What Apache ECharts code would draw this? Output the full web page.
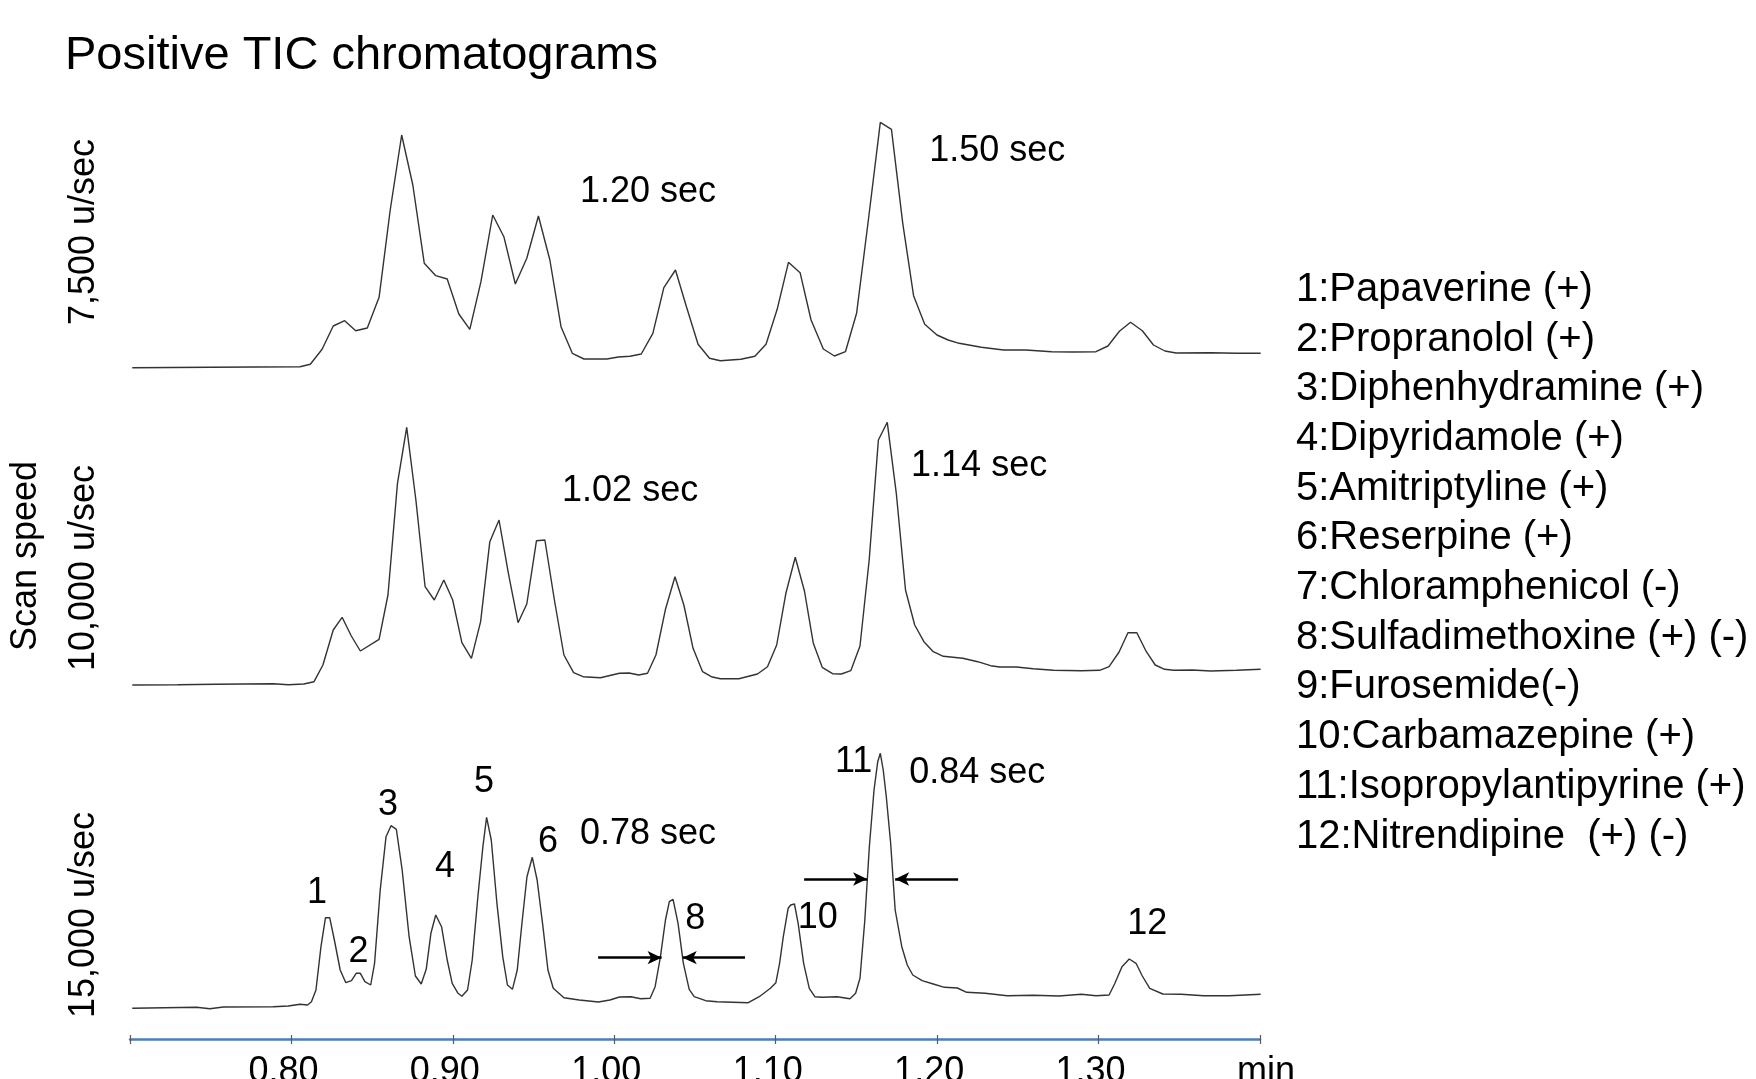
<!DOCTYPE html>
<html>
<head>
<meta charset="UTF-8">
<title>Positive TIC chromatograms</title>
<script src="https://cdn.jsdelivr.net/npm/echarts@6/dist/echarts.min.js"></script>
<style>
  html, body { margin: 0; padding: 0; background: #fff; }
  #chart { width: 1756px; height: 1079px; }
</style>
</head>
<body>
<div id="chart"></div>
<script>
// retention time (min) and TIC signal (relative units) for each scan speed
const times7500 = [0.7014, 0.7500, 0.8053, 0.8117, 0.8190, 0.8259, 0.8330, 0.8398, 0.8470, 0.8543,
  0.8612, 0.8683, 0.8752, 0.8823, 0.8894, 0.8965, 0.9037, 0.9105, 0.9174, 0.9247,
  0.9316, 0.9387, 0.9458, 0.9530, 0.9601, 0.9670, 0.9740, 0.9812, 0.9954, 1.0025,
  1.0097, 1.0167, 1.0239, 1.0307, 1.0379, 1.0447, 1.0519, 1.0590, 1.0657, 1.0784,
  1.0871, 1.0940, 1.1009, 1.1079, 1.1151, 1.1219, 1.1295, 1.1364, 1.1432, 1.1501,
  1.1574, 1.1648, 1.1717, 1.1787, 1.1854, 1.1923, 1.1999, 1.2068, 1.2136, 1.2274,
  1.2411, 1.2549, 1.2709, 1.2847, 1.2984, 1.3058, 1.3129, 1.3198, 1.3271, 1.3340,
  1.3411, 1.3480, 1.3695, 1.3855, 1.4004];
const signal7500 = [2.3, 2.7, 3.3, 5.7, 20.7, 44, 49.3, 39.3, 42, 72.7,
  160, 235, 185, 106.7, 94.3, 91, 56, 40.7, 88.3, 155,
  133.3, 86, 111.7, 154, 110, 43.3, 16.7, 11, 11, 13,
  13.7, 16, 36.7, 82.3, 100, 63.3, 25.7, 11.7, 9.3, 10.7,
  13.7, 25.7, 60.7, 107.7, 97.3, 50, 21, 14, 18.3, 56.7,
  150, 247.7, 240.7, 146.7, 74.3, 45.7, 35, 30, 26.7, 22.7,
  20, 20, 18.3, 18, 18.3, 24, 38.7, 47.7, 39.3, 25,
  19, 17, 17.3, 16.7, 16.7];

const times10000 = [0.7014, 0.7294, 0.7531, 0.7887, 0.7981, 0.8076, 0.8140, 0.8195, 0.8259, 0.8314,
  0.8371, 0.8427, 0.8543, 0.8598, 0.8657, 0.8714, 0.8771, 0.8828, 0.8885, 0.8944,
  0.8999, 0.9056, 0.9115, 0.9172, 0.9229, 0.9286, 0.9344, 0.9404, 0.9458, 0.9518,
  0.9570, 0.9629, 0.9688, 0.9748, 0.9807, 0.9914, 1.0032, 1.0092, 1.0151, 1.0206,
  1.0258, 1.0317, 1.0376, 1.0431, 1.0488, 1.0547, 1.0601, 1.0657, 1.0772, 1.0887,
  1.0949, 1.1006, 1.1063, 1.1121, 1.1178, 1.1233, 1.1288, 1.1352, 1.1407, 1.1465,
  1.1522, 1.1579, 1.1636, 1.1691, 1.1747, 1.1804, 1.1861, 1.1918, 1.1976, 1.2038,
  1.2159, 1.2251, 1.2331, 1.2388, 1.2491, 1.2595, 1.2721, 1.2893, 1.3007, 1.3065,
  1.3127, 1.3182, 1.3237, 1.3296, 1.3351, 1.3409, 1.3466, 1.3581, 1.3695, 1.3855,
  1.4004];
const signal10000 = [5, 5.3, 5.7, 6.3, 5.3, 6, 8.3, 25, 60, 72.7,
  54, 39, 50.7, 95, 206.7, 262.7, 190, 103.3, 90, 110,
  90, 47.3, 31.7, 68.3, 148.3, 170, 116.7, 67.3, 86, 149.3,
  150, 90, 35, 17.3, 13.3, 12.3, 16.7, 17, 15, 16.7,
  35, 80.7, 113.3, 85, 41.7, 18.3, 13.3, 11.3, 11.3, 16,
  23.3, 45, 96.7, 132.7, 99, 46.7, 22.7, 16.3, 16, 19.3,
  44, 130, 250, 267.7, 196.7, 100, 65, 48.3, 38.3, 33.7,
  31.7, 28.3, 24.3, 23, 23, 21.3, 19.7, 19.3, 19.7, 23.3,
  38, 57.3, 57.3, 38.3, 25, 20.7, 19.7, 20, 19, 19.7,
  20.7];

const times15000 = [0.7014, 0.7412, 0.7495, 0.7578, 0.7887, 0.7981, 0.8053, 0.8100, 0.8124, 0.8152,
  0.8183, 0.8211, 0.8237, 0.8266, 0.8302, 0.8337, 0.8372, 0.8401, 0.8427, 0.8455,
  0.8491, 0.8515, 0.8550, 0.8586, 0.8617, 0.8650, 0.8686, 0.8729, 0.8768, 0.8804,
  0.8835, 0.8864, 0.8894, 0.8930, 0.8965, 0.8996, 0.9032, 0.9056, 0.9091, 0.9120,
  0.9155, 0.9186, 0.9209, 0.9238, 0.9273, 0.9309, 0.9338, 0.9369, 0.9399, 0.9428,
  0.9459, 0.9492, 0.9522, 0.9558, 0.9589, 0.9622, 0.9688, 0.9783, 0.9902, 0.9973,
  1.0032, 1.0104, 1.0163, 1.0222, 1.0253, 1.0286, 1.0317, 1.0341, 1.0364, 1.0395,
  1.0428, 1.0464, 1.0495, 1.0566, 1.0637, 1.0830, 1.0898, 1.0967, 1.1001, 1.1024,
  1.1047, 1.1077, 1.1093, 1.1116, 1.1139, 1.1173, 1.1208, 1.1242, 1.1288, 1.1380,
  1.1460, 1.1495, 1.1522, 1.1552, 1.1580, 1.1609, 1.1632, 1.1648, 1.1666, 1.1685,
  1.1712, 1.1740, 1.1781, 1.1815, 1.1849, 1.1907, 1.1976, 1.2045, 1.2125, 1.2183,
  1.2297, 1.2434, 1.2595, 1.2755, 1.2893, 1.2984, 1.3065, 1.3099, 1.3145, 1.3190,
  1.3232, 1.3271, 1.3317, 1.3398, 1.3512, 1.3650, 1.3810, 1.4004];
const signal15000 = [3.7, 4.7, 3.3, 5, 5.3, 6, 7.7, 7, 10.3, 22,
  65.3, 94.3, 94.3, 72, 42, 29.3, 31.3, 38.7, 38.7, 30.3,
  27, 48.7, 122, 175.3, 186.3, 182.7, 142, 75.3, 36, 28,
  42.7, 78.7, 97, 85.3, 52, 28.7, 18.7, 15.7, 22, 52,
  115.3, 165.3, 194.7, 172, 108.7, 55.3, 27, 22.7, 42, 88.7,
  135.3, 154.7, 132, 85.3, 42, 23.7, 14.3, 12, 10, 12,
  15, 15.3, 13.3, 13.7, 25.3, 55.3, 92, 110.3, 112.7, 88.7,
  48.7, 22.7, 15.3, 11.3, 10.3, 9.3, 15.3, 23.7, 29.3, 48.7,
  75.3, 103.7, 107, 108, 88.7, 48.7, 23.7, 15.3, 14.7, 15.3,
  13.3, 18.7, 33.7, 92, 165.3, 222, 250.3, 258.7, 242, 215.3,
  168.7, 102, 65.3, 47, 37, 31.3, 28, 24.7, 24, 19.7,
  18.7, 16.3, 16.7, 16, 17.7, 16.3, 17, 28, 45.3, 53,
  48.7, 36, 23.7, 18, 17.7, 16.3, 16.3, 17.7];

// peak numbers on the 15,000 u/sec trace
const peakNames = ['1', '2', '3', '4', '5', '6', '8', '10', '11', '12'];
const peakNameTimes = [0.8159, 0.8416, 0.8599, 0.8952, 0.9193, 0.9590, 1.0501, 1.1260, 1.1483, 1.3301];
const peakNameLevels = [118.5, 60, 206.5, 145, 229.5, 169.5, 92.5, 93.5, 249.5, 87.5];

// peak widths (sec) for peaks 8 and 11 at each scan speed
const widthTexts = [['1.20 sec', '1.50 sec'], ['1.02 sec', '1.14 sec'], ['0.78 sec', '0.84 sec']];
const widthTimes = [[1.0209, 1.2372], [1.0098, 1.2260], [1.0209, 1.2248]];
const widthLevels = [[177.5, 219], [199, 224], [177.5, 238.5]];

// half-height arrows on the bottom trace: [from, to, level]
const arrows = [[0.990, 1.0293, 54.3], [1.0810, 1.0424, 54.3], [1.1176, 1.1566, 133], [1.2130, 1.1740, 133]];

const speedLabels = ['7,500 u/sec', '10,000 u/sec', '15,000 u/sec'];
const compounds = [
  '1:Papaverine (+)', '2:Propranolol (+)', '3:Diphenhydramine (+)', '4:Dipyridamole (+)',
  '5:Amitriptyline (+)', '6:Reserpine (+)', '7:Chloramphenicol (-)', '8:Sulfadimethoxine (+) (-)',
  '9:Furosemide(-)', '10:Carbamazepine (+)', '11:Isopropylantipyrine (+)', '12:Nitrendipine  (+) (-)'
];
const xTickMin = 0.7, xTickMax = 1.4, xTickStep = 0.1;

const FONT = '"Liberation Sans", Arial, sans-serif';
const chart = echarts.init(document.getElementById('chart'));

const zip = (ts, vs) => ts.map((t, i) => [t, vs[i]]);
const traces = [zip(times7500, signal7500), zip(times10000, signal10000), zip(times15000, signal15000)];

const grids = [
  { left: 130, right: 496, top: 100, height: 270, outerBoundsMode: 'none' },
  { left: 130, right: 496, top: 400, height: 290, outerBoundsMode: 'none' },
  { left: 130, right: 496, top: 730, height: 309, outerBoundsMode: 'none' }
];
const yRanges = [[0, 270], [0, 290], [-27, 282]];

const textLabel = {
  show: true, position: 'inside', formatter: '{b}', color: '#000', opacity: 1,
  fontFamily: FONT, fontSize: 36, textBorderWidth: 0, textBorderColor: 'transparent'
};

const xAxes = grids.map((g, i) => ({
  type: 'value', gridIndex: i, min: xTickMin, max: xTickMax, interval: xTickStep,
  show: i === 2,
  splitLine: { show: false },
  axisLine: { onZero: false, lineStyle: { color: '#4a7ebb', width: 2.5 } },
  axisTick: { show: true, length: 5, lineStyle: { color: '#595959', width: 1.2 } },
  axisLabel: {
    show: true, margin: 15, color: '#000', fontFamily: FONT, fontSize: 36,
    showMinLabel: true, showMaxLabel: true,
    formatter: v => {
      if (v > 1.395) return '{m|min}';
      if (v < 0.75) return '';
      return '{n|' + v.toFixed(2) + '}';
    },
    rich: {
      n: { fontFamily: FONT, fontSize: 36, color: '#000', padding: [0, 16, 0, 0] },
      m: { fontFamily: FONT, fontSize: 36, color: '#000', padding: [0, 0, 0, 12] }
    }
  }
}));
// inner half of the tick marks on the time axis
xAxes.push({
  type: 'value', gridIndex: 2, min: xTickMin, max: xTickMax, interval: xTickStep,
  position: 'bottom', splitLine: { show: false },
  axisLine: { show: false, onZero: false },
  axisLabel: { show: false },
  axisTick: { show: true, inside: true, length: 4, lineStyle: { color: '#595959', width: 1.2 } }
});

const yAxes = grids.map((g, i) => ({
  type: 'value', gridIndex: i, min: yRanges[i][0], max: yRanges[i][1], show: false
}));

const series = [];
traces.forEach((d, i) => {
  series.push({
    type: 'line', xAxisIndex: i, yAxisIndex: i, data: d,
    showSymbol: false, clip: false, silent: true,
    lineStyle: { color: '#333', width: 1.4 }
  });
  series.push({
    type: 'scatter', xAxisIndex: i, yAxisIndex: i, symbolSize: 1, silent: true,
    itemStyle: { color: 'rgba(255,255,255,0)' },
    label: textLabel,
    data: widthTexts[i].map((txt, k) => ({ name: txt, value: [widthTimes[i][k], widthLevels[i][k]] }))
  });
});
series.push({
  type: 'scatter', xAxisIndex: 2, yAxisIndex: 2, symbolSize: 1, silent: true,
  itemStyle: { color: 'rgba(255,255,255,0)' },
  label: textLabel,
  data: peakNames.map((n, k) => ({ name: n, value: [peakNameTimes[k], peakNameLevels[k]] })),
  markLine: {
    silent: true, symbol: ['none', 'arrow'], symbolSize: [10, 14],
    label: { show: false },
    lineStyle: { color: '#000', width: 2.5, type: 'solid' },
    data: arrows.map(a => [{ coord: [a[0], a[2]] }, { coord: [a[1], a[2]] }])
  }
});

const graphic = [
  { type: 'text', left: 65, top: 33, style: { text: 'Positive TIC chromatograms', font: '47px ' + FONT, fill: '#000' } },
  { type: 'text', x: 26, y: 556, rotation: Math.PI / 2,
    style: { text: 'Scan speed', font: '36px ' + FONT, fill: '#000', align: 'center', verticalAlign: 'middle' } },
  { type: 'text', x: 1296, y: 265,
    style: { text: compounds.join('\n'), font: '40px ' + FONT, lineHeight: 49.7, fill: '#000', verticalAlign: 'top' } }
];
const speedCenters = [232, 568, 915];
speedLabels.forEach((s, i) => {
  graphic.push({ type: 'text', x: 84, y: speedCenters[i], rotation: Math.PI / 2,
    style: { text: s, font: '36px ' + FONT, fill: '#000', align: 'center', verticalAlign: 'middle' } });
});

chart.setOption({
  animation: false,
  backgroundColor: '#fff',
  grid: grids,
  xAxis: xAxes,
  yAxis: yAxes,
  series: series,
  graphic: graphic
});
</script>
</body>
</html>
